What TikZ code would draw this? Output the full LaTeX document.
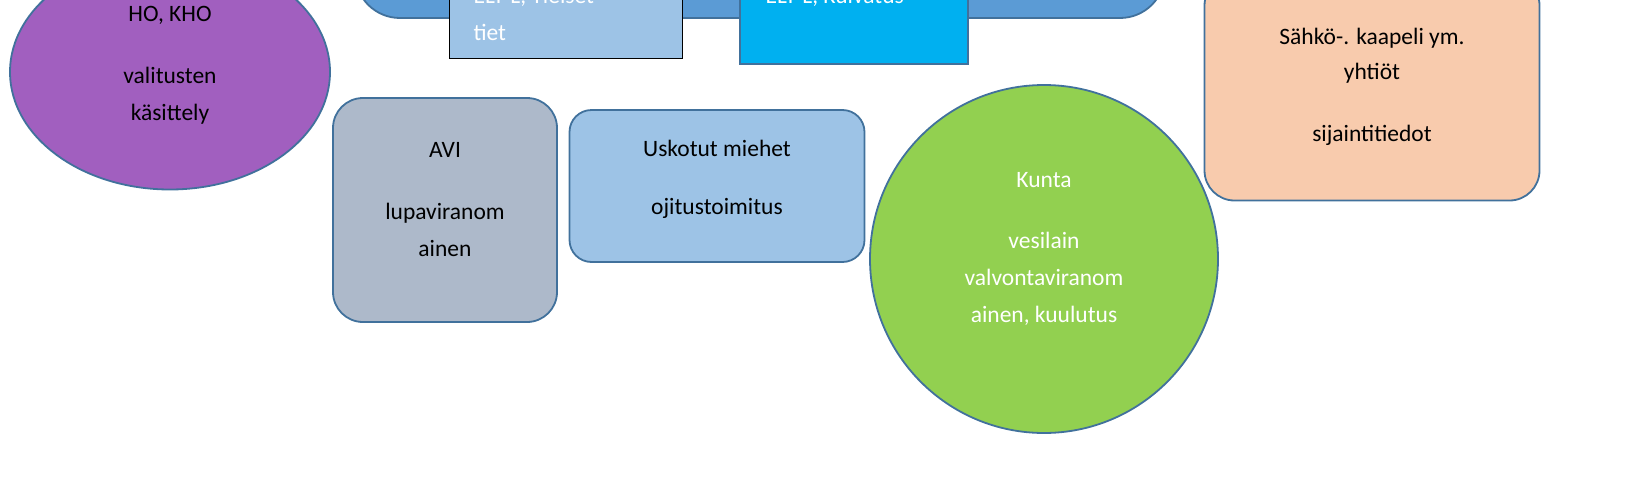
\documentclass[tikz,border=0pt]{standalone}
\usepackage{fontspec}
\usetikzlibrary{shapes.geometric}
\setmainfont{Carlito}
\begin{document}
\begin{tikzpicture}[x=1pt,y=-1pt,
  txt/.style={font=\fontsize{23.5}{28}\selectfont},
  wt/.style={txt,text=white},
  bd/.style={draw=bdc,line width=1.8pt}]
\definecolor{bdc}{HTML}{41719C}
\useasboundingbox (0,0) rectangle (1651,482);
\clip (0,0) rectangle (1651,482);
\definecolor{big}{HTML}{5B9BD5}
\definecolor{lb}{HTML}{9DC3E6}
\definecolor{cy}{HTML}{00B0F0}
\definecolor{pu}{HTML}{A15FBF}
\definecolor{gr}{HTML}{92D050}
\definecolor{or}{HTML}{F8CBAD}
\definecolor{av}{HTML}{ADB9CA}
% purple ellipse
\node[bd,fill=pu,ellipse,minimum width=320,minimum height=235] (ho) at (170,72) {};
\node[txt] (ho1) at (170,15) {HO, KHO};
\node[txt] (ho2) at (170,75) {valitusten};
\node[txt] (ho3) at (170,114) {käsittely};
% big blue
\node[bd,fill=big,rounded corners=45,minimum width=810,minimum height=120] (big) at (760,-42) {};
\node[draw=black,fill=lb,minimum width=233,minimum height=120,inner sep=0] (yl) at (566,-2) {};
\node[wt,anchor=west] (yl1) at (470,-3) {ELY-L, Yleiset};
\node[wt,anchor=west] (yl2) at (470,32) {tiet};
\node[draw=bdc,line width=1.8pt,fill=cy,minimum width=228,minimum height=130,inner sep=0] (ku) at (854,-1) {};
\node[wt,anchor=west] (ku1) at (762,-3) {ELY-L, Kuivatus};
% orange
\node[bd,fill=or,rounded corners=30,minimum width=335,minimum height=225] (or) at (1372,88) {};
\node[txt] (or1) at (1372,38) {Sähkö-. kaapeli ym.};
\node[txt] (or2) at (1372,73) {yhtiöt};
\node[txt] (or3) at (1372,135) {sijaintitiedot};
% AVI
\node[bd,fill=av,rounded corners=30,minimum width=224,minimum height=224] (avi) at (445,210) {};
\node[txt] (a1) at (445,150) {AVI};
\node[txt] (a2) at (445,213) {lupaviranom};
\node[txt] (a3) at (445,248) {ainen};
% Uskotut
\node[bd,fill=lb,rounded corners=22,minimum width=295,minimum height=152] (us) at (717,186) {};
\node[txt] (u1) at (717,148) {Uskotut miehet};
\node[txt] (u2) at (717,208) {ojitustoimitus};
% Kunta
\node[bd,fill=gr,circle,minimum size=348] (k) at (1044,259) {};
\node[wt] (k1) at (1044,180) {Kunta};
\node[wt] (k2) at (1044,240) {vesilain};
\node[wt] (k3) at (1044,277) {valvontaviranom};
\node[wt] (k4) at (1044,316) {ainen, kuulutus};
\end{tikzpicture}
\end{document}
